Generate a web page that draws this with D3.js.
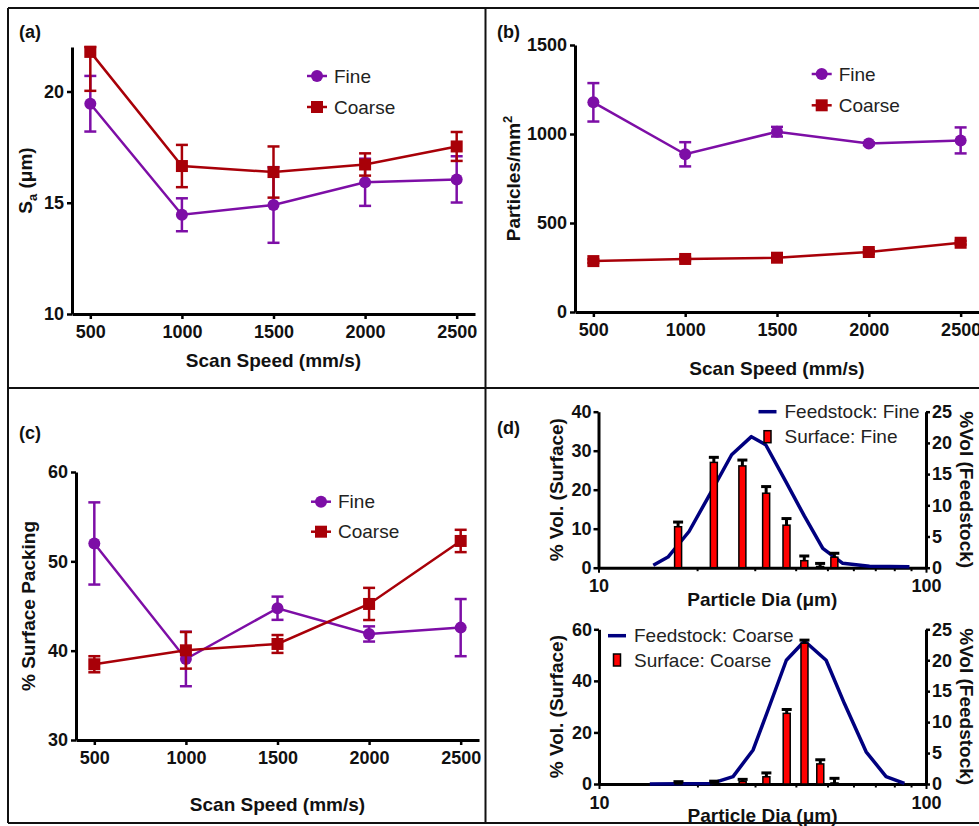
<!DOCTYPE html>
<html>
<head>
<meta charset="utf-8">
<script src="https://cdn.jsdelivr.net/npm/d3@7"></script>
<style>
body { margin: 0; background: #fff; }
svg { display: block; }
</style>
</head>
<body>
<div id="fig"></div>
<script>
// scan speed (mm/s) for panels a-c
var speeds = [500, 1000, 1500, 2000, 2500]
var speedTicks = [500, 1000, 1500, 2000, 2500]

// (a) Sa (um)
var saFine = [19.45, 14.46, 14.9, 15.92, 16.05]
var saFineErr = [1.25, 0.74, 1.7, 1.06, 1.04]
var saCoarse = [21.78, 16.65, 16.38, 16.72, 17.53]
var saCoarseErr = [1.75, 0.95, 1.15, 0.5, 0.65]
var saTicks = [10, 15, 20]

// (b) particles / mm2
var ppFine = [1178, 886, 1013, 946, 964]
var ppFineErr = [108, 68, 27, 8, 73]
var ppCoarse = [286, 298, 305, 337, 389]
var ppCoarseErr = [10, 8, 8, 10, 10]
var ppTicks = [0, 500, 1000, 1500]

// (c) % surface packing
var spFine = [52.0, 39.07, 44.75, 41.87, 42.58]
var spFineErr = [4.6, 3.05, 1.3, 0.85, 3.2]
var spCoarse = [38.48, 40.04, 40.75, 45.23, 52.28]
var spCoarseErr = [0.9, 2.05, 1.0, 1.8, 1.25]
var spTicks = [30, 40, 50, 60]

// (d) particle size distributions
var bins = [17.5, 22.5, 27.5, 32.5, 37.5, 42.5, 47.5, 52.5]
var surfFine = [10.5, 27.0, 26.1, 19.1, 10.9, 1.8, 0.3, 2.7]
var surfFineErr = [1.2, 1.3, 1.5, 1.7, 1.7, 1.2, 0.8, 1.0]
var surfCoarse = [0.3, 0.5, 1.0, 2.8, 27.4, 54.6, 7.8, 0.4]
var surfCoarseErr = [0.6, 0.6, 0.8, 1.5, 1.5, 1.2, 1.6, 1.8]

var feedFineDia = [14.7, 16.3, 18.9, 22.0, 25.5, 29.3, 32.4, 37.4, 42.5, 48.4, 55.7, 67.2, 89]
var feedFineVol = [0.4, 1.7, 5.8, 12.0, 18.1, 21.0, 19.7, 13.7, 8.3, 3.1, 0.7, 0.25, 0.15]
var feedCoarseDia = [14.3, 22.1, 25.7, 29.6, 32.9, 37.4, 42.5, 49.5, 56.3, 65.6, 75.5, 85.9]
var feedCoarseVol = [0, 0.1, 1.2, 5.5, 12.0, 20.0, 23.1, 20.0, 13.0, 5.2, 1.2, 0.1]

var diaTicks = [10, 20, 30, 40, 50, 60, 70, 80, 90, 100]
var feedTicks = [0, 5, 10, 15, 20, 25]

var FONT = "'Liberation Sans', Arial, Helvetica, sans-serif"
var purple = "#7d0ea6", darkred = "#a80008", navy = "#00007f"

var svg = d3.select("#fig")
  .append("svg")
    .attr("width", 979)
    .attr("height", 826)
    .style("font-family", FONT)

// panel frame
var frame = [[8, 8, 979, 8], [8, 388, 979, 388], [8, 823, 979, 823], [8, 8, 8, 823], [485.5, 8, 485.5, 823]]
svg.selectAll(".frame").data(frame).enter().append("line")
  .attr("x1", d => d[0]).attr("y1", d => d[1]).attr("x2", d => d[2]).attr("y2", d => d[3])
  .attr("stroke", "#111").attr("stroke-width", 2)

function styleAxis(ax) {
  ax.attr("font-family", FONT)
  ax.selectAll(".domain").attr("stroke", "#000").attr("stroke-width", 3)
  ax.selectAll(".tick line").attr("stroke", "#000").attr("stroke-width", 2.5)
  ax.selectAll(".tick text").attr("font-size", 18).attr("font-weight", "bold").attr("fill", "#111")
}

function title(g, txt, x, y, rot) {
  var t = g.append("text")
    .attr("transform", "translate(" + x + "," + y + ")" + (rot ? " rotate(" + rot + ")" : ""))
    .attr("text-anchor", "middle")
    .attr("dy", "0.35em")
    .attr("font-size", 19)
    .attr("font-weight", "bold")
    .attr("fill", "#111")
  if (typeof txt == "string") t.text(txt)
  else txt(t)
  return t
}

function panelLabel(txt, x, y) {
  svg.append("text").attr("x", x).attr("y", y).attr("dy", "0.35em")
    .attr("font-size", 18).attr("font-weight", "bold").attr("fill", "#111").text(txt)
}

function marker(g, shape, cx, cy, col) {
  if (shape == "circle")
    g.append("circle").attr("cx", cx).attr("cy", cy).attr("r", 6).attr("fill", col)
  else
    g.append("rect").attr("x", cx - 6).attr("y", cy - 6).attr("width", 12).attr("height", 12).attr("fill", col)
}

// line + error bar panels (a)-(c)
function linePanel(p) {
  var x = d3.scaleLinear().domain([400, 2600]).range(p.xr)
  var y = d3.scaleLinear().domain(p.yd).range(p.yr).clamp(true)
  var g = svg.append("g")

  var ax = g.append("g")
    .attr("transform", "translate(0," + p.yr[0] + ")")
    .call(d3.axisBottom(x).tickValues(speedTicks).tickSize(5).tickSizeOuter(0).tickPadding(6).tickFormat(d3.format("d")))
  styleAxis(ax)
  var ay = g.append("g")
    .attr("transform", "translate(" + p.xr[0] + ",0)")
    .call(d3.axisLeft(y).tickValues(p.yt).tickSize(5).tickSizeOuter(0).tickPadding(3).tickFormat(d3.format("d")))
  styleAxis(ay)

  p.series.forEach(function(s) {
    var pts = speeds.map(function(v, i) { return {x: v, y: s.v[i], e: s.e[i]} })
    g.append("path").datum(pts)
      .attr("fill", "none").attr("stroke", s.col).attr("stroke-width", 2.5)
      .attr("d", d3.line().x(d => x(d.x)).y(d => y(d.y)))
    var eb = g.append("g").attr("stroke", s.col).attr("stroke-width", 2.5)
    pts.forEach(function(d) {
      var cx = x(d.x), y1 = y(d.y + d.e), y2 = y(d.y - d.e)
      eb.append("line").attr("x1", cx).attr("x2", cx).attr("y1", y1).attr("y2", y2)
      eb.append("line").attr("x1", cx - 6).attr("x2", cx + 6).attr("y1", y1).attr("y2", y1)
      eb.append("line").attr("x1", cx - 6).attr("x2", cx + 6).attr("y1", y2).attr("y2", y2)
    })
    pts.forEach(function(d) { marker(g, s.shape, x(d.x), y(d.y), s.col) })
  })

  // legend
  p.series.forEach(function(s, i) {
    var ly = p.leg[1] + i * p.leg[2]
    g.append("line").attr("x1", p.leg[0] - 10).attr("x2", p.leg[0] + 10).attr("y1", ly).attr("y2", ly)
      .attr("stroke", s.col).attr("stroke-width", 2.5)
    marker(g, s.shape, p.leg[0], ly, s.col)
    g.append("text").attr("x", p.leg[0] + 17).attr("y", ly).attr("dy", "0.35em")
      .attr("font-size", 19).attr("fill", "#222").text(s.name)
  })

  title(g, "Scan Speed (mm/s)", (p.xr[0] + p.xr[1]) / 2, p.xt)
  title(g, p.ytitle, p.yx, (p.yr[0] + p.yr[1]) / 2, -90)
}

linePanel({
  xr: [72, 475], yd: [10, 22], yr: [314, 47], yt: saTicks, xt: 360, yx: 25,
  ytitle: function(t) {
    t.append("tspan").text("S")
    t.append("tspan").attr("font-size", 13).attr("dy", 5).text("a")
    t.append("tspan").attr("dy", -5).text(" (\u03bcm)")
  },
  leg: [317, 76, 31],
  series: [
    {name: "Fine", v: saFine, e: saFineErr, col: purple, shape: "circle"},
    {name: "Coarse", v: saCoarse, e: saCoarseErr, col: darkred, shape: "square"}
  ]
})

linePanel({
  xr: [575, 979], yd: [0, 1500], yr: [312, 45], yt: ppTicks, xt: 368, yx: 513,
  ytitle: function(t) {
    t.append("tspan").text("Particles/mm")
    t.append("tspan").attr("font-size", 13).attr("dy", -8).text("2")
  },
  leg: [821.7, 74, 31.3],
  series: [
    {name: "Fine", v: ppFine, e: ppFineErr, col: purple, shape: "circle"},
    {name: "Coarse", v: ppCoarse, e: ppCoarseErr, col: darkred, shape: "square"}
  ]
})

linePanel({
  xr: [76, 479], yd: [30, 60], yr: [740, 472], yt: spTicks, xt: 804, yx: 28,
  ytitle: "% Surface Packing",
  leg: [321, 501.7, 30],
  series: [
    {name: "Fine", v: spFine, e: spFineErr, col: purple, shape: "circle"},
    {name: "Coarse", v: spCoarse, e: spCoarseErr, col: darkred, shape: "square"}
  ]
})

// (d) distribution panels: bars on left axis, feedstock line on right axis
function distPanel(p) {
  var x = d3.scaleLog().domain([10, 100]).range(p.xr)
  var yl = d3.scaleLinear().domain([0, p.ymax]).range(p.yr)
  var yr = d3.scaleLinear().domain([0, 25]).range(p.yr)
  var g = svg.append("g")

  var ax = g.append("g")
    .attr("transform", "translate(0," + p.yr[0] + ")")
    .call(d3.axisBottom(x).tickValues(diaTicks).tickSize(5).tickSizeOuter(0).tickPadding(7)
      .tickFormat(d => (d == 10 || d == 100) ? d : ""))
  styleAxis(ax)
  ax.selectAll(".tick line").attr("y2", d => (d == 10 || d == 100) ? 5 : 3.5).attr("stroke-width", 2)
  var ay = g.append("g")
    .attr("transform", "translate(" + p.xr[0] + ",0)")
    .call(d3.axisLeft(yl).tickValues(p.yt).tickSize(5).tickSizeOuter(0).tickPadding(2))
  styleAxis(ay)
  var ay2 = g.append("g")
    .attr("transform", "translate(" + p.xr[1] + ",0)")
    .call(d3.axisRight(yr).tickValues(feedTicks).tickSize(4).tickSizeOuter(0).tickPadding(2))
  styleAxis(ay2)

  var pts = p.fd.map(function(d, i) { return [d, p.fv[i]] })
  g.append("path").datum(pts)
    .attr("fill", "none").attr("stroke", navy).attr("stroke-width", 3.5).attr("stroke-linejoin", "round")
    .attr("d", d3.line().x(d => x(d[0])).y(d => yr(d[1])))

  var bars = bins.map(function(b, i) { return {d: b, v: p.sv[i], e: p.se[i]} })
  g.selectAll(".bar").data(bars).enter().append("rect")
    .attr("x", d => x(d.d) - 3.5)
    .attr("y", d => yl(d.v))
    .attr("width", 7)
    .attr("height", d => yl(0) - yl(d.v))
    .attr("fill", "#ff0000").attr("stroke", "#000").attr("stroke-width", 1.5)
  var eb = g.append("g").attr("stroke", "#000").attr("stroke-width", 3)
  bars.forEach(function(d) {
    var cx = x(d.d), y1 = yl(d.v + d.e), y2 = yl(d.v)
    eb.append("line").attr("x1", cx).attr("x2", cx).attr("y1", y1).attr("y2", y2)
    eb.append("line").attr("x1", cx - 5).attr("x2", cx + 5).attr("y1", y1).attr("y2", y1)
  })

  // legend
  g.append("line").attr("x1", p.leg[0] - 9).attr("x2", p.leg[0] + 9).attr("y1", p.leg[1]).attr("y2", p.leg[1])
    .attr("stroke", navy).attr("stroke-width", 3.5)
  g.append("rect").attr("x", p.leg[0] - 3.5).attr("y", p.leg[2] - 6).attr("width", 7).attr("height", 12)
    .attr("fill", "#ff0000").attr("stroke", "#000").attr("stroke-width", 1.5)
  g.append("text").attr("x", p.leg[0] + 17).attr("y", p.leg[1]).attr("dy", "0.35em")
    .attr("font-size", 19).attr("fill", "#222").text("Feedstock: " + p.name)
  g.append("text").attr("x", p.leg[0] + 17).attr("y", p.leg[2]).attr("dy", "0.35em")
    .attr("font-size", 19).attr("fill", "#222").text("Surface: " + p.name)

  title(g, "Particle Dia (\u03bcm)", (p.xr[0] + p.xr[1]) / 2, p.xt)
  title(g, "% Vol. (Surface)", 556.7, (p.yr[0] + p.yr[1]) / 2, -90)
  title(g, "%Vol (Feedstock)", 966.7, (p.yr[0] + p.yr[1]) / 2, 90)
}

distPanel({
  name: "Fine", xr: [598.5, 926], ymax: 40, yr: [567.7, 411.7], yt: [0, 10, 20, 30, 40], xt: 599,
  sv: surfFine, se: surfFineErr, fd: feedFineDia, fv: feedFineVol,
  leg: [767.5, 411.7, 436.7]
})

distPanel({
  name: "Coarse", xr: [599, 926], ymax: 60, yr: [784, 629.3], yt: [0, 20, 40, 60], xt: 815,
  sv: surfCoarse, se: surfCoarseErr, fd: feedCoarseDia, fv: feedCoarseVol,
  leg: [617, 635.7, 660]
})

panelLabel("(a)", 19, 32)
panelLabel("(b)", 497, 32)
panelLabel("(c)", 19, 433)
panelLabel("(d)", 497, 428)
</script>
</body>
</html>
